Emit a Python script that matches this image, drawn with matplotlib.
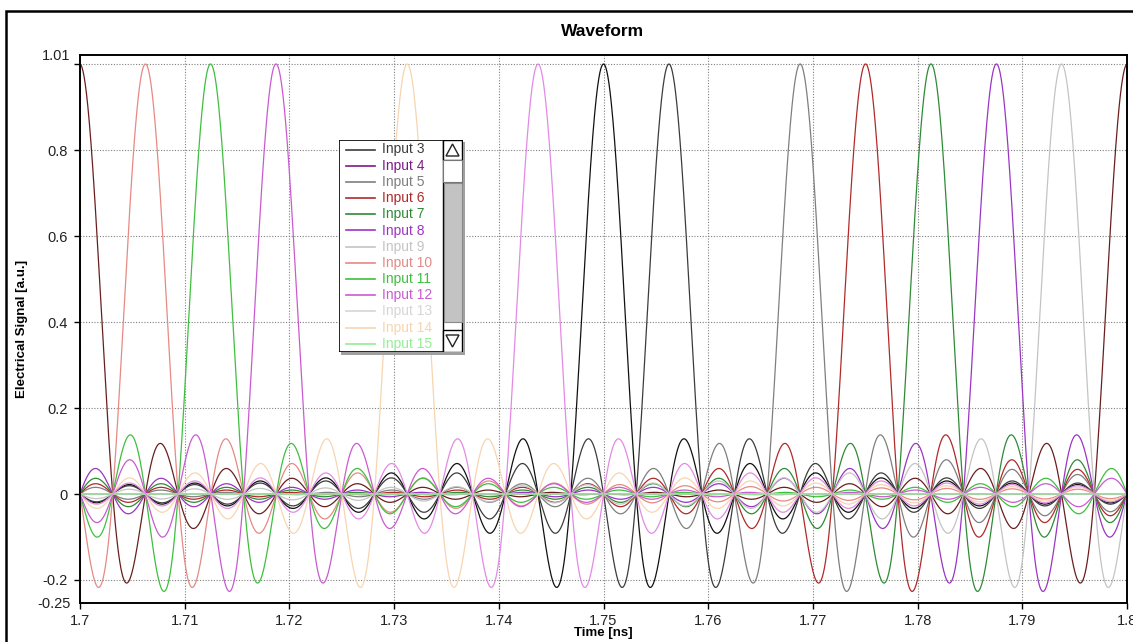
import numpy as np
import matplotlib
matplotlib.use('Agg')
import matplotlib.pyplot as plt
from matplotlib.patches import Rectangle, Polygon
from matplotlib.ticker import FixedLocator, FixedFormatter

plt.rcParams['font.family'] = ['Liberation Sans', 'DejaVu Sans']

# Каналы
input_names = ['Input 1', 'Input 2', 'Input 3', 'Input 4', 'Input 5', 'Input 6',
               'Input 7', 'Input 8', 'Input 9', 'Input 10', 'Input 11', 'Input 12',
               'Input 13', 'Input 14', 'Input 15', 'Input 16']
input_colors = ['#111111', '#6a1f1f', '#3c3c3c', '#7d1a86', '#7f7f7f', '#b02a2a',
                '#2f8a35', '#9b35c3', '#c4c4c4', '#e58a84', '#3fbf3f', '#c95bd0',
                '#d6d6d6', '#f7d5b0', '#94ee94', '#e38ae6']

# Импульсы: центр (нс), номер входа, амплитуда
pulse_times = [1.66875, 1.675, 1.68125, 1.6875,
               1.7, 1.70625, 1.7125, 1.71875, 1.73125, 1.74375, 1.75, 1.75625,
               1.76875, 1.775, 1.78125, 1.7875, 1.79375, 1.8,
               1.8125, 1.81875]
pulse_inputs = [5, 6, 7, 8,
                2, 10, 11, 12, 14, 16, 1, 3,
                5, 6, 7, 8, 9, 2,
                11, 12]
pulse_heights = [1.0, 1.0, 1.0, 1.0,
                 1.0, 1.0, 1.0, 1.0, 1.0, 1.0, 1.0, 1.0,
                 1.0, 1.0, 1.0, 1.0, 1.0, 1.0,
                 1.0, 1.0]

T_zero = 0.003125  # расстояние между нулями sinc (нс)

x_ticks = [1.7, 1.71, 1.72, 1.73, 1.74, 1.75, 1.76, 1.77, 1.78, 1.79, 1.8]
x_labels = ['1.7', '1.71', '1.72', '1.73', '1.74', '1.75', '1.76', '1.77', '1.78', '1.79', '1.8']
y_ticks = [-0.2, 0, 0.2, 0.4, 0.6, 0.8, 1.0]
y_labels = ['-0.2', '0', '0.2', '0.4', '0.6', '0.8', '']
y_min, y_max = -0.2535, 1.021
legend_first, legend_last = 3, 15  # видимая часть списка

W, H = 1133, 642


def px_box(l, t, r, b):
    return [l / W, 1 - b / H, (r - l) / W, (b - t) / H]


t = np.linspace(1.7, 1.8, 4001)
signals = []
for k in range(1, len(input_names) + 1):
    y = np.zeros_like(t)
    for tc, inp, h in zip(pulse_times, pulse_inputs, pulse_heights):
        if inp == k:
            y += h * np.sinc((t - tc) / T_zero)
    signals.append(y)

fig = plt.figure(figsize=(W / 100, H / 100), dpi=100)
ax = fig.add_axes(px_box(80, 55, 1127, 603))

for y, c in zip(signals, input_colors):
    ax.plot(t, y, color=c, lw=0.9)

ax.set_xlim(1.7, 1.8)
ax.set_ylim(y_min, y_max)
ax.set_xticks(x_ticks)
ax.set_xticklabels(x_labels)
ax.set_yticks(y_ticks)
ax.set_yticklabels(y_labels)
# подписи границ оси
ax.yaxis.set_minor_locator(FixedLocator([y_min, y_max]))
ax.yaxis.set_minor_formatter(FixedFormatter(['-0.25', '1.01']))
ax.tick_params(axis='y', which='minor', length=0, pad=7, labelsize=10.5, labelcolor='#222222')
ax.tick_params(axis='both', which='major', direction='out', length=4, width=1,
               labelsize=10.5, labelcolor='#222222')
ax.tick_params(axis='y', which='major', pad=5)
ax.tick_params(axis='x', which='major', pad=4)
ax.grid(True, which='major', linestyle=(0, (1, 1.5)), color='#808080', lw=0.8)
for s in ax.spines.values():
    s.set_linewidth(1.4)
    s.set_color('black')

fig.text(603 / W, 1 - 31 / H, 'Waveform', ha='center', va='center',
         fontsize=12.5, fontweight='bold')
fig.text(603 / W, 1 - 633 / H, 'Time [ns]', ha='center', va='center',
         fontsize=9.5, fontweight='bold')
fig.text(22 / W, 1 - 329 / H, 'Electrical Signal [a.u.]', ha='center', va='center',
         rotation=90, fontsize=9.5, fontweight='bold')

# рамка вокруг графика
fig.add_artist(Rectangle((6 / W, -0.05), 1.2, 1 - 11 / H + 0.05, transform=fig.transFigure,
                         fill=False, edgecolor='black', lw=1.8, zorder=1))

# легенда со скроллбаром
fig.add_artist(Rectangle((341 / W, 1 - 355 / H), 124 / W, 213 / H, transform=fig.transFigure,
                         facecolor='#a0a0a0', edgecolor='none', zorder=4))
lax = fig.add_axes(px_box(339, 140, 463, 352), zorder=5)
lax.set_xlim(0, 124)
lax.set_ylim(212, 0)
lax.set_axis_off()
lax.add_patch(Rectangle((0, 0), 124, 212, facecolor='white', edgecolor='black', lw=1.2))
for row, k in enumerate(range(legend_first, legend_last + 1)):
    yy = 9.5 + row * 16.2
    c = input_colors[k - 1]
    lax.plot([7, 36], [yy, yy], color=c, lw=1.2)
    lax.text(43, yy, input_names[k - 1], color=c, fontsize=10, va='center', ha='left')

sx0, sx1 = 104, 123
lax.add_patch(Rectangle((sx0, 0), sx1 - sx0, 212, facecolor='white', edgecolor='black', lw=1))
lax.add_patch(Rectangle((sx0, 0), sx1 - sx0, 20, facecolor='white', edgecolor='black', lw=1))
lax.add_patch(Rectangle((sx0, 20), sx1 - sx0, 22, facecolor='white', edgecolor='#777777', lw=0.8))
lax.add_patch(Rectangle((sx0 + 0.5, 43), sx1 - sx0 - 1, 139, facecolor='#c3c3c3',
                        edgecolor='#8a8a8a', lw=0.8))
lax.add_patch(Rectangle((sx0, 190), sx1 - sx0, 22, facecolor='white', edgecolor='black', lw=1))
lax.add_patch(Polygon([[107, 16], [120, 16], [113.5, 4]], closed=True, fill=False,
                      edgecolor='#222222', lw=1))
lax.add_patch(Polygon([[107, 195], [120, 195], [113.5, 207]], closed=True, fill=False,
                      edgecolor='#222222', lw=1))

fig.savefig('out.png', dpi=100)
